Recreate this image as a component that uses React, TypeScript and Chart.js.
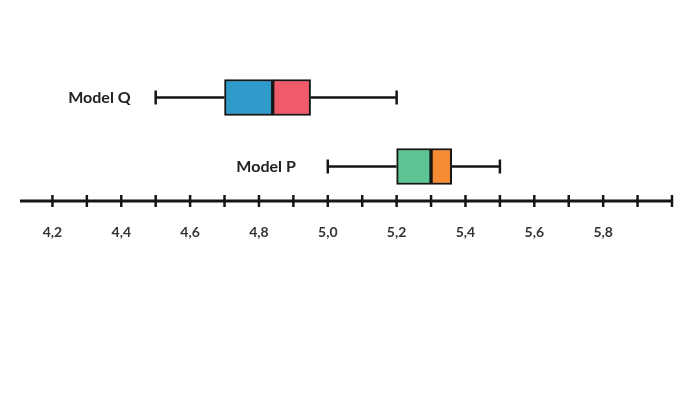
import { useEffect, useRef } from 'react';
import { Chart, registerables } from 'chart.js';

Chart.register(...registerables);

const categories = ['Model Q', 'Model P'];
const minValues = [4.5, 5.0];
const q1Values = [4.7, 5.2];
const medianValues = [4.84, 5.3];
const q3Values = [4.95, 5.36];
const maxValues = [5.2, 5.5];

const lowerColors = ['#2F9BCB', '#5EC493'];
const upperColors = ['#F05A6B', '#F58C33'];

const tickValues = [4.2, 4.3, 4.4, 4.5, 4.6, 4.7, 4.8, 4.9, 5.0, 5.1, 5.2, 5.3, 5.4, 5.5, 5.6, 5.7, 5.8, 5.9, 6.0];
const labeledTickValues = [4.2, 4.4, 4.6, 4.8, 5.0, 5.2, 5.4, 5.6, 5.8];
const tickLabels = ['4,2', '4,4', '4,6', '4,8', '5,0', '5,2', '5,4', '5,6', '5,8'];

const AXIS_MIN = 4.1;
const AXIS_MAX = 6.0;

const INK = '#161616';
const LABEL_GAPS = [25, 32];

const boxPlotPlugin = {
  id: 'boxPlotExtras',
  beforeDatasetsDraw(chart: any) {
    const { ctx, scales } = chart;
    const xs = scales.x;
    const ys = scales.y;
    ctx.save();
    ctx.strokeStyle = INK;
    ctx.lineWidth = 2.5;
    ctx.lineCap = 'butt';
    categories.forEach((_, i) => {
      const y = ys.getPixelForValue(i);
      const xMin = xs.getPixelForValue(minValues[i]);
      const xQ1 = xs.getPixelForValue(q1Values[i]);
      const xQ3 = xs.getPixelForValue(q3Values[i]);
      const xMax = xs.getPixelForValue(maxValues[i]);
      ctx.beginPath();
      ctx.moveTo(xMin, y);
      ctx.lineTo(xQ1, y);
      ctx.moveTo(xQ3, y);
      ctx.lineTo(xMax, y);
      ctx.moveTo(xMin, y - 7);
      ctx.lineTo(xMin, y + 7);
      ctx.moveTo(xMax, y - 7);
      ctx.lineTo(xMax, y + 7);
      ctx.stroke();
    });
    ctx.restore();
  },
  afterDraw(chart: any) {
    const { ctx, scales, chartArea } = chart;
    const xs = scales.x;
    const ys = scales.y;
    ctx.save();
    ctx.fillStyle = '#222';
    ctx.font = 'bold 16px Lato';
    ctx.textAlign = 'right';
    ctx.textBaseline = 'middle';
    categories.forEach((name, i) => {
      const y = ys.getPixelForValue(i);
      const xMin = xs.getPixelForValue(minValues[i]);
      ctx.fillText(name, xMin - LABEL_GAPS[i], y);
    });
    const axisY = chartArea.bottom;
    ctx.strokeStyle = INK;
    ctx.lineWidth = 3;
    ctx.beginPath();
    ctx.moveTo(chartArea.left + 2, axisY);
    ctx.lineTo(chartArea.right, axisY);
    ctx.stroke();
    ctx.lineWidth = 2.5;
    ctx.beginPath();
    xs.ticks.forEach((t: any) => {
      const x = xs.getPixelForValue(t.value);
      ctx.moveTo(x, axisY - 6);
      ctx.lineTo(x, axisY + 6);
    });
    ctx.stroke();
    ctx.restore();
  },
};

export default function App() {
  const canvasRef = useRef<HTMLCanvasElement | null>(null);

  useEffect(() => {
    const canvas = canvasRef.current;
    if (!canvas) return;
    const chart = new Chart(canvas, {
      type: 'bar',
      data: {
        labels: categories,
        datasets: [
          {
            label: 'Q1 – Median',
            data: categories.map((_, i) => [q1Values[i], medianValues[i]]) as any,
            backgroundColor: lowerColors,
            borderColor: INK,
            borderWidth: 2,
            borderSkipped: false,
            barThickness: 36,
            grouped: false,
          } as any,
          {
            label: 'Median – Q3',
            data: categories.map((_, i) => [medianValues[i], q3Values[i]]) as any,
            backgroundColor: upperColors,
            borderColor: INK,
            borderWidth: 2,
            borderSkipped: false,
            barThickness: 36,
            grouped: false,
          } as any,
        ],
      },
      options: {
        indexAxis: 'y',
        responsive: false,
        animation: false,
        layout: { padding: { left: 18, right: 28, top: 63, bottom: 0 } },
        plugins: {
          legend: { display: false },
          tooltip: { enabled: false },
        },
        scales: {
          x: {
            type: 'linear',
            min: AXIS_MIN,
            max: AXIS_MAX,
            afterBuildTicks: (scale: any) => {
              scale.ticks = tickValues.map((v) => ({ value: v }));
            },
            afterFit: (scale: any) => {
              scale.height = 192;
            },
            grid: { display: false, drawTicks: false },
            border: { display: false },
            ticks: {
              autoSkip: false,
              maxRotation: 0,
              padding: 23,
              color: '#333',
              font: { family: 'Lato', size: 14, weight: 'bold' },
              callback: (value: any) => {
                const idx = labeledTickValues.findIndex((v) => Math.abs(v - Number(value)) < 1e-6);
                return idx >= 0 ? tickLabels[idx] : '';
              },
            },
          },
          y: {
            type: 'category',
            display: false,
          },
        },
      },
      plugins: [boxPlotPlugin],
    });
    return () => chart.destroy();
  }, []);

  return (
    <div style={{ position: 'fixed', left: 0, top: 0, width: 700, height: 393, background: '#fff' }}>
      <canvas ref={canvasRef} width={700} height={393} />
    </div>
  );
}
